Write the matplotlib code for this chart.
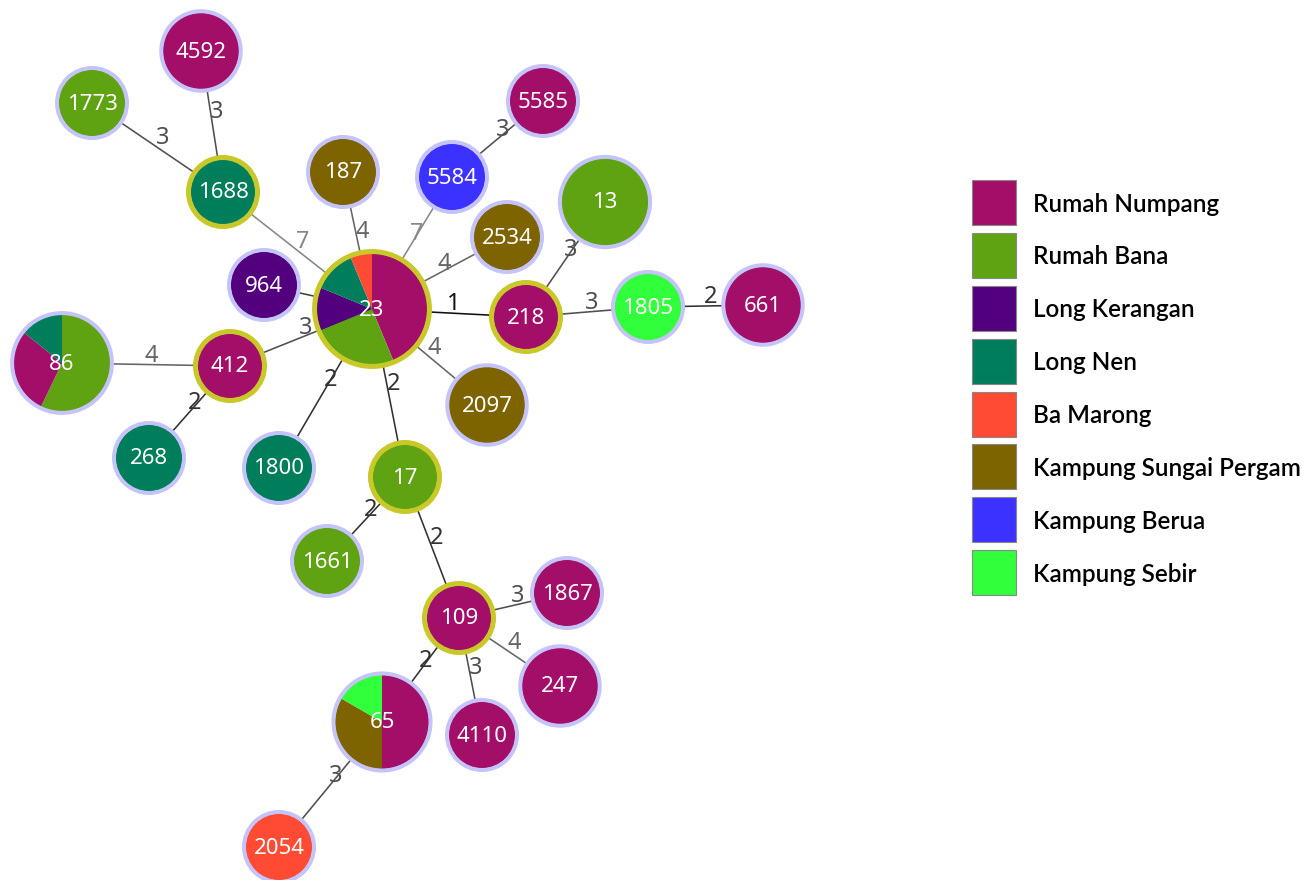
import matplotlib
matplotlib.use("Agg")
import matplotlib.pyplot as plt
from matplotlib.patches import Circle, Wedge, Rectangle

# populations and colours (legend order)
populations = ["Rumah Numpang", "Rumah Bana", "Long Kerangan", "Long Nen",
               "Ba Marong", "Kampung Sungai Pergam", "Kampung Berua", "Kampung Sebir"]
pop_colors = ["#A30F68", "#5FA312", "#52007D", "#007D5A",
              "#FF4B33", "#7D6400", "#3C32FF", "#32FF3C"]

# node id -> list of (population index, count), drawn clockwise from top
node_ids = ["4592", "1773", "1688", "187", "5584", "5585", "13", "2534", "964",
            "23", "218", "1805", "661", "86", "412", "2097", "268", "1800", "17",
            "1661", "1867", "109", "247", "65", "4110", "2054"]
node_slices = {
    "4592": [(0, 2)], "1773": [(1, 1)], "1688": [(3, 1)], "187": [(5, 1)],
    "5584": [(6, 1)], "5585": [(0, 1)], "13": [(1, 4)], "2534": [(5, 1)],
    "964": [(2, 1)],
    "23": [(0, 7), (1, 4), (2, 2), (3, 2), (4, 1)],
    "218": [(0, 1)], "1805": [(7, 1)], "661": [(0, 2)],
    "86": [(1, 4), (0, 2), (3, 1)],
    "412": [(0, 1)], "2097": [(5, 2)], "268": [(3, 1)], "1800": [(3, 1)],
    "17": [(1, 1)], "1661": [(1, 1)], "1867": [(0, 1)], "109": [(0, 1)],
    "247": [(0, 2)],
    "65": [(0, 3), (5, 2), (7, 1)],
    "4110": [(0, 1)], "2054": [(4, 1)],
}
# nodes drawn with the yellow outline
linked_nodes = ["1688", "23", "218", "412", "17", "109"]

# edges: (a, b, distance label)
edges = [("1688", "4592", "3"), ("1688", "1773", "3"), ("1688", "23", "7"),
         ("187", "23", "4"), ("5584", "23", "7"), ("5584", "5585", "3"),
         ("2534", "23", "4"), ("23", "218", "1"), ("218", "13", "3"),
         ("218", "1805", "3"), ("1805", "661", "2"), ("964", "23", ""),
         ("23", "412", "3"), ("412", "86", "4"), ("412", "268", "2"),
         ("23", "1800", "2"), ("23", "17", "2"), ("23", "2097", "4"),
         ("17", "1661", "2"), ("17", "109", "2"), ("109", "1867", "3"),
         ("109", "247", "4"), ("109", "4110", "3"), ("109", "65", "2"),
         ("65", "2054", "3")]

# layout (pixel coordinates of node centres)
layout = {
    "4592": (201, 51), "1773": (92, 103), "1688": (223, 192), "187": (343, 172),
    "5584": (452, 177), "5585": (543, 101), "13": (605, 202), "2534": (507, 237),
    "964": (264, 285), "23": (372, 309), "218": (526, 317), "1805": (648, 307),
    "661": (763, 305), "86": (62, 363), "412": (230, 366), "2097": (487, 405),
    "268": (149, 458), "1800": (279, 468), "17": (405, 477), "1661": (327, 561),
    "1867": (567, 593), "109": (459, 618), "247": (560, 686), "65": (382, 722),
    "4110": (482, 735), "2054": (279, 847),
}

edge_colors = {"1": "#111111", "2": "#333333", "3": "#505050", "4": "#666666",
               "7": "#888888", "": "#444444"}

W, H = 1308, 880
fig = plt.figure(figsize=(W / 100, H / 100), dpi=100)
ax = fig.add_axes([0, 0, 1, 1])
ax.set_xlim(0, W)
ax.set_ylim(H, 0)
ax.axis("off")

px = 72 / 100  # pixels -> points


def radius(n):
    return 37 * n ** 0.174


for a, b, lab in edges:
    (x1, y1), (x2, y2) = layout[a], layout[b]
    c = edge_colors[lab]
    ax.plot([x1, x2], [y1, y2], color=c, lw=1.6 * px, zorder=1)
    if lab:
        ax.text((x1 + x2) / 2 + 5, (y1 + y2) / 2 - 9, lab, color=c,
                fontsize=17, family="Noto Sans", ha="center", va="center", zorder=2)

for nid in node_ids:
    x, y = layout[nid]
    sl = node_slices[nid]
    total = sum(c for _, c in sl)
    r = radius(total)
    ring = 5 if nid in linked_nodes else 4
    ring_col = "#C8C828" if nid in linked_nodes else "#C4C4FA"
    inner = r - ring + 0.5
    # y axis is inverted: angle -90 is the top, increasing angle runs clockwise
    start = -90.0
    for p, cnt in sl:
        ang = 360.0 * cnt / total
        ax.add_patch(Wedge((x, y), inner, start, start + ang,
                           facecolor=pop_colors[p], edgecolor="none", zorder=3))
        start += ang
    ax.add_patch(Circle((x, y), r - ring / 2, fill=False, edgecolor=ring_col,
                        lw=ring * px, zorder=4))
    ax.text(x, y + 1, nid, color="white", fontsize=16, family="Noto Sans",
            ha="center", va="center", zorder=5)

# legend
for i, (name, col) in enumerate(zip(populations, pop_colors)):
    y0 = 180 + i * 52.9
    ax.add_patch(Rectangle((972, y0), 44, 45, facecolor=col, edgecolor="#888888",
                           lw=0.8, zorder=3))
    ax.text(1033, y0 + 24, name, fontsize=17.5, family="Lato", fontweight="semibold",
            ha="left", va="center", color="black")

fig.savefig("out.png", dpi=100)
